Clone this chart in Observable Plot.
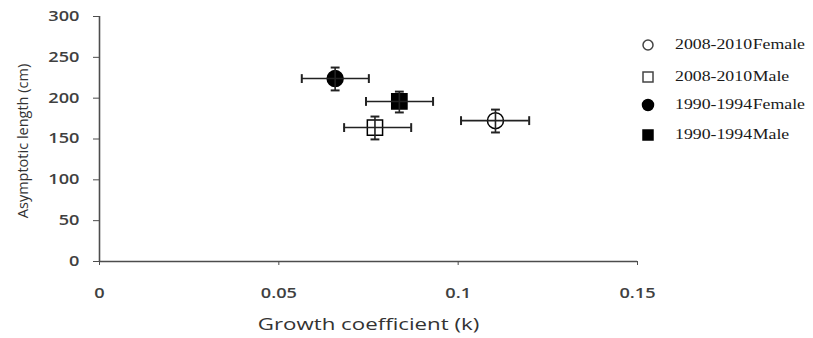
<!DOCTYPE html>
<html>
<head>
<meta charset="utf-8">
<script src="https://cdn.jsdelivr.net/npm/d3@7"></script>
<script src="https://cdn.jsdelivr.net/npm/@observablehq/plot@0.6"></script>
<style>
  html, body { margin: 0; padding: 0; background: #fff; }
  #wrap { position: relative; width: 813px; height: 338px; }
  #legend { position: absolute; left: 641px; top: 35px; font-family: "Liberation Serif", serif; font-size: 14px; color: #1a1a1a; }
  .item { position: absolute; left: 0; height: 20px; display: flex; align-items: center; white-space: nowrap; }
  .item svg { margin-right: 20px; flex: none; }
  .item span { display: inline-block; word-spacing: -3px; transform-origin: left center; }
</style>
</head>
<body>
<div id="wrap"><div id="legend"></div></div>
<script>
// ---- data ----
const groups  = ["2008-2010 Female", "2008-2010 Male", "1990-1994 Female", "1990-1994 Male"];
const kMean   = [0.1104, 0.0768, 0.0657, 0.0836];
const kLow    = [0.1008, 0.0682, 0.0564, 0.0743];
const kHigh   = [0.1198, 0.0869, 0.0751, 0.0930];
const lenMean = [172.5, 164, 224, 196];
const lenLow  = [158, 149.5, 209.5, 182.5];
const lenHigh = [186, 177.5, 237.5, 208];
const xTicks  = [0, 0.05, 0.1, 0.15];
const yTicks  = [0, 50, 100, 150, 200, 250, 300];
const xLabel  = "Growth coefficient (k)";
const yLabel  = "Asymptotic length (cm)";

// ---- presentation ----
const shapeOf = g => g.endsWith("Female") ? "circle" : "square";
const filledOf = g => g.startsWith("1990");

const data = groups.map((g, i) => ({
  group: g, k: kMean[i], kLo: kLow[i], kHi: kHigh[i],
  len: lenMean[i], lenLo: lenLow[i], lenHi: lenHigh[i],
  shape: shapeOf(g), filled: filledOf(g)
}));

const capV = { draw(ctx, size) { const h = Math.sqrt(size) / 2; ctx.moveTo(0, -h); ctx.lineTo(0, h); } };
const capH = { draw(ctx, size) { const h = Math.sqrt(size) / 2; ctx.moveTo(-h, 0); ctx.lineTo(h, 0); } };

const axisColor = "#4d4d4d";
const tickFont = { fontFamily: "Open Sans", fontSize: 14, fontWeight: 600, fill: "#404040" };

const circles = data.filter(d => d.shape === "circle");
const squares = data.filter(d => d.shape === "square");

const chart = Plot.plot({
  width: 813,
  height: 338,
  marginLeft: 99,
  marginRight: 176,
  marginTop: 16,
  marginBottom: 77,
  style: { fontFamily: "Open Sans", background: "white" },
  x: { domain: [0, 0.15] },
  y: { domain: [0, 300] },
  marks: [
    Plot.axisY({ ticks: yTicks, tickSize: 6, tickPadding: 14, label: null, stroke: axisColor, className: "tk", ...tickFont }),
    Plot.axisX({ ticks: xTicks, tickSize: 4, tickPadding: 23, label: null, stroke: axisColor, className: "tk", tickFormat: d3.format("~g"), ...tickFont }),
    Plot.ruleX([0], { stroke: axisColor, strokeWidth: 1.6 }),
    Plot.ruleY([0], { stroke: axisColor, strokeWidth: 1.6 }),
    // markers
    Plot.dot(circles, { x: "k", y: "len", r: 8, symbol: "circle", stroke: "black", strokeWidth: 1.5, fill: d => d.filled ? "black" : "none" }),
    Plot.dot(squares, { x: "k", y: "len", r: 8.6, symbol: "square", stroke: "black", strokeWidth: 1.5, fill: d => d.filled ? "black" : "none" }),
    // error bars
    Plot.ruleY(data, { y: "len", x1: "kLo", x2: "kHi", stroke: "#222", strokeWidth: 1.6 }),
    Plot.ruleX(data, { x: "k", y1: "lenLo", y2: "lenHi", stroke: "#222", strokeWidth: 1.6 }),
    Plot.dot(data, { x: "kLo", y: "len", symbol: capV, r: 5, stroke: "#222", strokeWidth: 2 }),
    Plot.dot(data, { x: "kHi", y: "len", symbol: capV, r: 5, stroke: "#222", strokeWidth: 2 }),
    Plot.dot(data, { x: "k", y: "lenLo", symbol: capH, r: 5, stroke: "#222", strokeWidth: 2 }),
    Plot.dot(data, { x: "k", y: "lenHi", symbol: capH, r: 5, stroke: "#222", strokeWidth: 2 }),
    // axis titles
    Plot.text([xLabel], { frameAnchor: "bottom", dy: 68, fontSize: 17, fill: "#333", fontFamily: "Open Sans", className: "xt" }),
    Plot.text([yLabel], { frameAnchor: "left", textAnchor: "middle", dx: -76, dy: 2, rotate: -90, fontSize: 14.5, fill: "#333", fontFamily: "Open Sans", letterSpacing: 1 })
  ]
});
document.getElementById("wrap").prepend(chart);

// the reference's text is horizontally stretched: widen glyphs in place
function stretch(selector, factor) {
  chart.querySelectorAll(selector).forEach(t => {
    const w = t.getComputedTextLength();
    t.setAttribute("textLength", (w * factor).toFixed(1));
    t.setAttribute("lengthAdjust", "spacingAndGlyphs");
  });
}
stretch(".tk text", 1.3);
stretch(".xt text", 1.31);

// ---- legend ----
const legend = document.getElementById("legend");
const rowTops = [0, 32, 60, 90];
groups.forEach((g, i) => {
  const item = document.createElement("div");
  item.className = "item";
  item.style.top = rowTops[i] + "px";
  const shape = shapeOf(g), filled = filledOf(g);
  const fill = filled ? "black" : "white";
  const sym = shape === "circle"
    ? `<circle cx="7" cy="7" r="${filled ? 5.5 : 5}" fill="${fill}" stroke="${filled ? "black" : "#444"}" stroke-width="1.5"/>`
    : `<rect x="2" y="2" width="10" height="10" fill="${fill}" stroke="${filled ? "black" : "#444"}" stroke-width="1.5"/>`;
  item.innerHTML = `<svg width="14" height="14">${sym}</svg><span>${g}</span>`;
  item.querySelector("span").style.transform = "scaleX(1.27)";
  legend.appendChild(item);
});
</script>
</body>
</html>
